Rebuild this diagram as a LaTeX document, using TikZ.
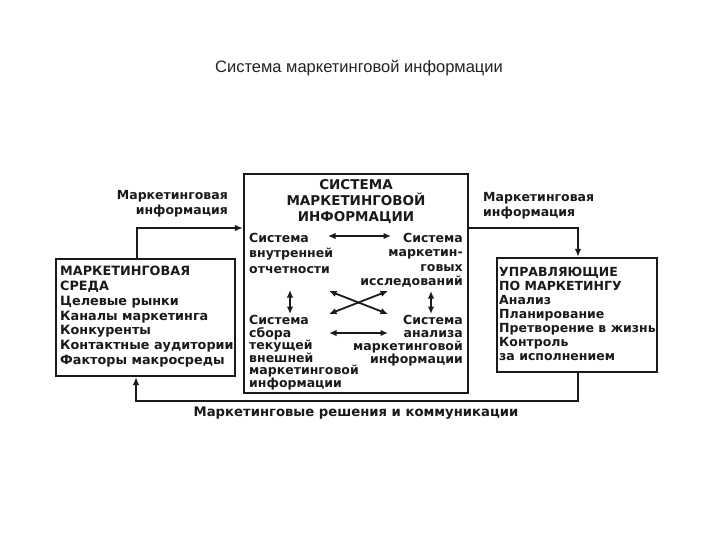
\documentclass[tikz,border=0pt]{standalone}
\usepackage{fontspec}
\setmainfont{Liberation Sans}
\newfontfamily\scanfont{DejaVu Sans}
\newcommand{\scanfs}[2]{\scanfont\bfseries\fontsize{#1}{#2}\selectfont}
\usetikzlibrary{arrows.meta,positioning}
\definecolor{mkink}{HTML}{1A1A1A}
\definecolor{mktitle}{HTML}{222222}
\tikzset{
  mkbox/.style={draw=mkink,line width=2.2pt,inner sep=0pt},
  mktext/.style={text=mkink,inner sep=0pt},
  mkflow/.style={draw=mkink,line width=2pt,-{Latex[length=8pt,width=6.5pt]}},
  mklink/.style={draw=mkink,line width=1.8pt,
    {Latex[length=7.5pt,width=6.5pt]}-{Latex[length=7.5pt,width=6.5pt]}},
}

\begin{document}
\begin{tikzpicture}[x=1pt,y=-1pt,
        sidetext/.style={mktext,align=left,anchor=north west,font=\scanfs{12.5}{14.6}}]
        \path[use as bounding box] (0,0) rectangle (720,540);
        \node[text=mktitle,font=\fontsize{16.5}{18}\selectfont] (title) at (359,68)
          {Система маркетинговой информации};
        % the three boxes
        \node[mkbox,minimum width=179,minimum height=117] (env) at (145.5,317.5) {};
        \node[mkbox,minimum width=224,minimum height=219] (mis) at (356,283.5) {};
        \node[mkbox,minimum width=160,minimum height=114] (mgr) at (577,315) {};
        \node[sidetext,font=\scanfs{12.8}{14.8}] (envtext) at (60,266)
          {МАРКЕТИНГОВАЯ\\СРЕДА\\Целевые рынки\\Каналы маркетинга\\Конкуренты\\Контактные аудитории\\Факторы макросреды};
        \node[sidetext,font=\scanfs{12.5}{14}] (mgrtext) at (499,267)
          {УПРАВЛЯЮЩИЕ\\ПО МАРКЕТИНГУ\\Анализ\\Планирование\\Претворение в жизнь\\Контроль\\за исполнением};
        % inside the MIS box
        \node[mktext,align=center,anchor=north,font=\scanfs{13.5}{16}] (mistitle) at (356,179)
          {СИСТЕМА\\МАРКЕТИНГОВОЙ\\ИНФОРМАЦИИ};
        \node[sidetext,font=\scanfs{12.5}{15.5}] (sysint) at (249,233)
          {Система\\внутренней\\отчетности};
        \node[mktext,align=right,anchor=north east,font=\scanfs{12.5}{14.5}] (sysres) at (463,233)
          {Система\\маркетин-\\говых\\исследований};
        \node[sidetext,font=\scanfs{12.5}{12.6}] (syscol) at (249,315)
          {Система\\сбора\\текущей\\внешней\\маркетинговой\\информации};
        \node[mktext,align=right,anchor=north east,font=\scanfs{12.5}{13}] (sysana) at (463,315)
          {Система\\анализа\\маркетинговой\\информации};
        \coordinate (intR) at (328,236);
        \coordinate (resL) at (391,236);
        \coordinate (colR) at (329,333);
        \coordinate (anaL) at (388,333);
        \coordinate (intD) at (290,290);
        \coordinate (colU) at (290,314);
        \coordinate (resD) at (431,291);
        \coordinate (anaU) at (431,314);
        \coordinate (crossNW) at (329,291);
        \coordinate (crossSE) at (388,314);
        \coordinate (crossNE) at (388,291);
        \coordinate (crossSW) at (329,314);
        \draw[mklink] (intR) -- (resL);
        \draw[mklink] (colR) -- (anaL);
        \draw[mklink] (intD) -- (colU);
        \draw[mklink] (resD) -- (anaU);
        \draw[mklink] (crossNW) -- (crossSE);
        \draw[mklink] (crossNE) -- (crossSW);
        % flows between the boxes
        \coordinate (bendL) at (137,228);
        \coordinate (bendR) at (578,228);
        \coordinate (bendBR) at (578,401);
        \coordinate (bendBL) at (136,401);
        \draw[mkflow] (bendL |- env.north) -- (bendL) -- (bendL -| mis.west);
        \draw[mkflow] (bendR -| mis.east) -- (bendR) -- (bendR |- mgr.north);
        \draw[mkflow] (bendBR |- mgr.south) -- (bendBR) -- (bendBL) -- (bendBL |- env.south);
        \node[mktext,align=right,anchor=north east,font=\scanfs{12.5}{15}] (infoL) at (228,190)
          {Маркетинговая\\информация};
        \node[sidetext,font=\scanfs{12.5}{15}] (infoR) at (483,192)
          {Маркетинговая\\информация};
        \node[mktext,font=\scanfs{13.2}{15}] (decide) at (356,413)
          {Маркетинговые решения и коммуникации};
      \end{tikzpicture}
\end{document}
